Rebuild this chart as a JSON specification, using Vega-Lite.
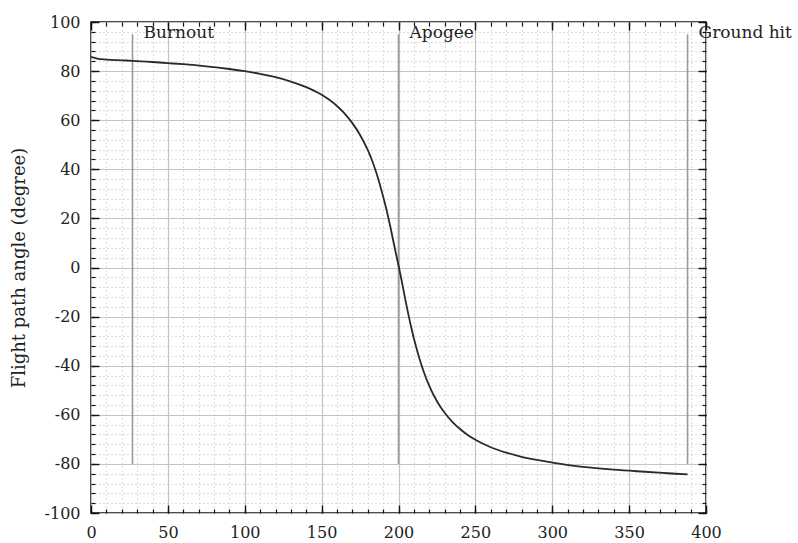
{
  "$schema": "https://vega.github.io/schema/vega-lite/v6.json",
  "width": 615,
  "height": 491,
  "autosize": "none",
  "padding": {"left": 91, "top": 22, "right": 92, "bottom": 30},
  "background": "white",
  "config": {
    "view": {"stroke": "#111", "strokeWidth": 1.6},
    "font": "DejaVu Serif",
    "axis": {"labelFont": "DejaVu Serif", "titleFont": "DejaVu Serif", "labelColor": "#222", "titleColor": "#222", "domain": false, "tickColor": "#111", "labelFlush": false}
  },
  "datasets": {
    "curve": [
      {"t": 0, "angle": 85.8}, {"t": 4, "angle": 85.1}, {"t": 10, "angle": 84.7}, {"t": 20, "angle": 84.4},
      {"t": 27, "angle": 84.2}, {"t": 40, "angle": 83.7}, {"t": 50, "angle": 83.25}, {"t": 60, "angle": 82.8},
      {"t": 75, "angle": 81.95}, {"t": 90, "angle": 80.85}, {"t": 100, "angle": 79.95}, {"t": 110, "angle": 78.85},
      {"t": 120, "angle": 77.5}, {"t": 130, "angle": 75.75}, {"t": 140, "angle": 73.45}, {"t": 150, "angle": 70.35},
      {"t": 155, "angle": 68.3}, {"t": 160, "angle": 65.8}, {"t": 165, "angle": 62.7}, {"t": 170, "angle": 58.8},
      {"t": 175, "angle": 54.0}, {"t": 180, "angle": 47.9}, {"t": 183, "angle": 43.3}, {"t": 186, "angle": 37.8},
      {"t": 189, "angle": 31.3}, {"t": 192, "angle": 24.0}, {"t": 195, "angle": 15.7}, {"t": 198, "angle": 6.6},
      {"t": 200.3, "angle": 0.0}, {"t": 202, "angle": -5.2}, {"t": 205, "angle": -14.8}, {"t": 208, "angle": -23.6},
      {"t": 211, "angle": -31.3}, {"t": 214, "angle": -37.9}, {"t": 217, "angle": -43.5}, {"t": 220, "angle": -48.2},
      {"t": 225, "angle": -54.5}, {"t": 230, "angle": -59.2}, {"t": 235, "angle": -62.9}, {"t": 240, "angle": -65.8},
      {"t": 245, "angle": -68.2}, {"t": 250, "angle": -70.15}, {"t": 260, "angle": -73.2}, {"t": 270, "angle": -75.4},
      {"t": 280, "angle": -77.1}, {"t": 290, "angle": -78.4}, {"t": 300, "angle": -79.45}, {"t": 320, "angle": -81.2},
      {"t": 340, "angle": -82.35}, {"t": 360, "angle": -83.2}, {"t": 375, "angle": -83.8}, {"t": 388, "angle": -84.3}
    ],
    "events": [
      {"event": "Burnout", "t": 27},
      {"event": "Apogee", "t": 200},
      {"event": "Ground hit", "t": 388}
    ]
  },
  "resolve": {"axis": {"x": "independent", "y": "independent"}},
  "layer": [
    {
      "data": {"name": "curve"},
      "mark": {"type": "line", "opacity": 0},
      "encoding": {
        "x": {"field": "t", "type": "quantitative", "scale": {"domain": [0, 400], "nice": false},
          "axis": {"orient": "bottom", "values": [0,10,20,30,40,50,60,70,80,90,100,110,120,130,140,150,160,170,180,190,200,210,220,230,240,250,260,270,280,290,300,310,320,330,340,350,360,370,380,390,400],
            "labels": false, "title": null, "grid": true, "gridColor": "#bcbcbc", "gridDash": [1, 3], "gridWidth": 1, "tickSize": -4, "tickWidth": 1.2}},
        "y": {"field": "angle", "type": "quantitative", "scale": {"domain": [-100, 100], "nice": false},
          "axis": {"orient": "left", "values": [-100,-96,-92,-88,-84,-80,-76,-72,-68,-64,-60,-56,-52,-48,-44,-40,-36,-32,-28,-24,-20,-16,-12,-8,-4,0,4,8,12,16,20,24,28,32,36,40,44,48,52,56,60,64,68,72,76,80,84,88,92,96,100],
            "labels": false, "title": null, "grid": true, "gridColor": "#bcbcbc", "gridDash": [1, 3], "gridWidth": 1, "tickSize": -4, "tickWidth": 1.2}}
      }
    },
    {
      "data": {"name": "curve"},
      "mark": {"type": "line", "opacity": 0},
      "encoding": {
        "x": {"field": "t", "type": "quantitative",
          "axis": {"orient": "bottom", "values": [0,50,100,150,200,250,300,350,400], "labels": true, "labelFontSize": 16, "labelPadding": 19, "title": null,
            "grid": true, "gridColor": "#c4c4c4", "gridWidth": 1.2, "tickSize": -8, "tickWidth": 1.4}},
        "y": {"field": "angle", "type": "quantitative",
          "axis": {"orient": "left", "values": [-100,-80,-60,-40,-20,0,20,40,60,80,100], "labels": true, "labelFontSize": 16, "labelPadding": 19,
            "labelExpr": "datum.value < 0 ? '-' + abs(datum.value) : '' + datum.value",
            "title": "Flight path angle (degree)", "titleFontSize": 18, "titleFontWeight": "normal", "titlePadding": 16,
            "grid": true, "gridColor": "#c4c4c4", "gridWidth": 1.2, "tickSize": -8, "tickWidth": 1.4}}
      }
    },
    {
      "data": {"name": "curve"},
      "mark": {"type": "line", "opacity": 0},
      "encoding": {
        "x": {"field": "t", "type": "quantitative",
          "axis": {"orient": "top", "values": [0,10,20,30,40,50,60,70,80,90,100,110,120,130,140,150,160,170,180,190,200,210,220,230,240,250,260,270,280,290,300,310,320,330,340,350,360,370,380,390,400],
            "labels": false, "title": null, "grid": false, "tickSize": -4, "tickWidth": 1.2}},
        "y": {"field": "angle", "type": "quantitative",
          "axis": {"orient": "right", "values": [-100,-96,-92,-88,-84,-80,-76,-72,-68,-64,-60,-56,-52,-48,-44,-40,-36,-32,-28,-24,-20,-16,-12,-8,-4,0,4,8,12,16,20,24,28,32,36,40,44,48,52,56,60,64,68,72,76,80,84,88,92,96,100],
            "labels": false, "title": null, "grid": false, "tickSize": -4, "tickWidth": 1.2}}
      }
    },
    {
      "data": {"name": "curve"},
      "mark": {"type": "line", "opacity": 0},
      "encoding": {
        "x": {"field": "t", "type": "quantitative",
          "axis": {"orient": "top", "values": [0,50,100,150,200,250,300,350,400], "labels": false, "title": null, "grid": false, "tickSize": -8, "tickWidth": 1.4}},
        "y": {"field": "angle", "type": "quantitative",
          "axis": {"orient": "right", "values": [-100,-80,-60,-40,-20,0,20,40,60,80,100], "labels": false, "title": null, "grid": false, "tickSize": -8, "tickWidth": 1.4}}
      }
    },
    {
      "data": {"name": "events"},
      "mark": {"type": "rule", "color": "#9a9a9a", "strokeWidth": 1.6},
      "encoding": {
        "x": {"field": "t", "type": "quantitative", "axis": null},
        "y": {"datum": -80, "type": "quantitative", "axis": null},
        "y2": {"datum": 95}
      }
    },
    {
      "data": {"name": "events"},
      "mark": {"type": "text", "align": "left", "baseline": "alphabetic", "dx": 11, "fontSize": 17, "font": "DejaVu Serif", "color": "#222"},
      "encoding": {
        "x": {"field": "t", "type": "quantitative", "axis": null},
        "y": {"datum": 93.5, "type": "quantitative", "axis": null},
        "text": {"field": "event"}
      }
    },
    {
      "data": {"name": "curve"},
      "mark": {"type": "line", "color": "#2a2a2a", "strokeWidth": 1.8, "interpolate": "monotone"},
      "encoding": {
        "x": {"field": "t", "type": "quantitative", "axis": null},
        "y": {"field": "angle", "type": "quantitative", "axis": null}
      }
    }
  ]
}
